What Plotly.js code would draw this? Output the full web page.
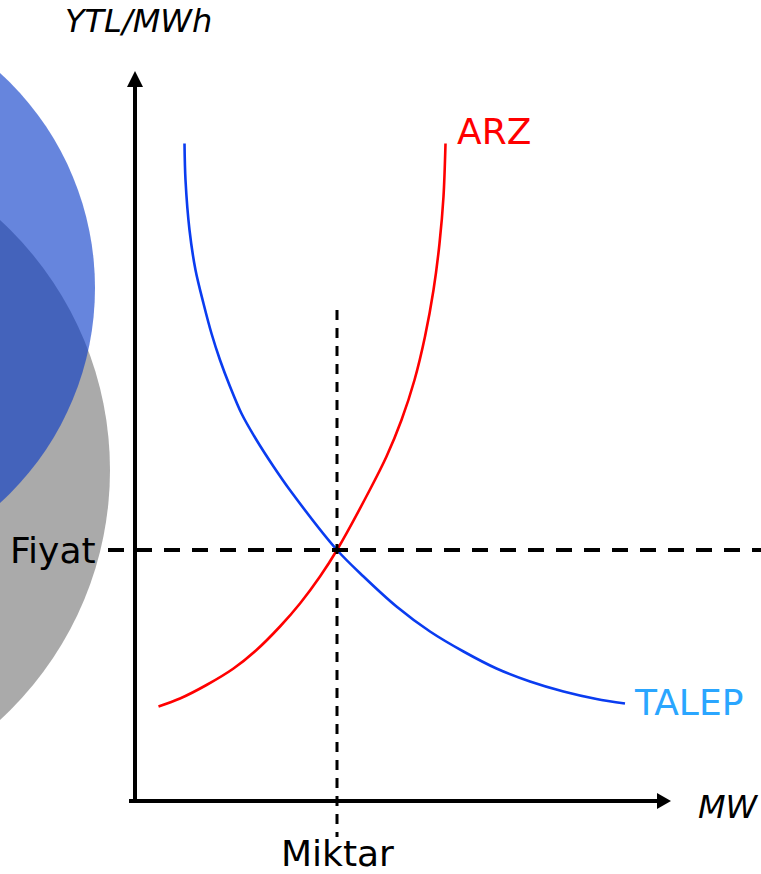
<!DOCTYPE html>
<html>
<head>
<meta charset="utf-8">
<script src="https://cdn.plot.ly/plotly-3.0.1.min.js"></script>
<style>html,body{margin:0;padding:0;background:#fff;}#chart{width:761px;height:874px;}</style>
</head>
<body>
<div id="chart"></div>
<script>
// Supply (ARZ) curve: quantity (MW) vs price (YTL/MWh), arbitrary units
var arzQ = [0.51, 0.94, 1.47, 2.01, 2.47, 2.94, 3.34, 3.74, 4.08, 4.74, 5.07, 5.37, 5.63, 5.84, 6.01, 6.13, 6.21, 6.25];
var arzP = [1.87, 2.03, 2.30, 2.63, 3.00, 3.47, 3.93, 4.47, 5.00, 6.21, 6.87, 7.60, 8.40, 9.27, 10.20, 11.13, 12.07, 13.13];
// Demand (TALEP) curve
var talepQ = [1.03, 1.05, 1.13, 1.25, 1.41, 1.57, 1.74, 1.94, 2.17, 2.47, 2.81, 3.13, 4.08, 4.61, 5.27, 5.94, 6.61, 7.27, 7.94, 8.61, 9.27, 9.84];
var talepP = [13.13, 12.40, 11.40, 10.60, 9.93, 9.33, 8.80, 8.27, 7.73, 7.20, 6.67, 6.21, 5.00, 4.47, 3.87, 3.37, 2.97, 2.63, 2.37, 2.17, 2.02, 1.93];
// Equilibrium
var eqQ = 4.08;
var eqP = 5.00;
// Labels
var labelArz = "ARZ";
var labelTalep = "TALEP";
var labelFiyat = "Fiyat";
var labelMiktar = "Miktar";
var labelY = "YTL/MWh";
var labelX = "MW";

var FONT = "DejaVu Sans, Verdana, sans-serif";

var traces = [
  {x: arzQ, y: arzP, mode: "lines", line: {color: "#ff0000", width: 2.6, shape: "spline", smoothing: 0.9}, hoverinfo: "skip"},
  {x: talepQ, y: talepP, mode: "lines", line: {color: "#0a3cf0", width: 2.6, shape: "spline", smoothing: 0.9}, hoverinfo: "skip"}
];

var shapes = [
  // decorative circles
  {type: "circle", xref: "x", yref: "y", x0: -14.02, x1: -0.46, y0: -0.18, y1: 13.38, fillcolor: "#aaaaaa", line: {width: 0}, layer: "below"},
  {type: "circle", xref: "x", yref: "y", x0: -12.4, x1: -0.76, y0: 4.42, y1: 16.06, fillcolor: "rgb(0,52,198)", opacity: 0.6, line: {width: 0}, layer: "below"},
  // dashed equilibrium lines
  {type: "line", xref: "x", yref: "y", x0: -0.5, x1: 12.6, y0: eqP, y1: eqP, line: {color: "#000", width: 4, dash: "16px,12px"}, layer: "above"},
  {type: "line", xref: "x", yref: "y", x0: eqQ, x1: eqQ, y0: 9.8, y1: -0.74, line: {color: "#000", width: 3, dash: "10px,8px"}, layer: "above"},
  // axes
  {type: "line", xref: "x", yref: "y", x0: 0.04, x1: 0.04, y0: -0.06, y1: 14.3, line: {color: "#000", width: 4}, layer: "above"},
  {type: "path", xref: "x", yref: "y", path: "M -0.12 14.26 L 0.2 14.26 L 0.04 14.58 Z", fillcolor: "#000", line: {width: 0}, layer: "above"},
  {type: "line", xref: "x", yref: "y", x0: -0.08, x1: 10.52, y0: -0.02, y1: -0.02, line: {color: "#000", width: 4}, layer: "above"},
  {type: "path", xref: "x", yref: "y", path: "M 10.48 0.14 L 10.48 -0.18 L 10.76 -0.02 Z", fillcolor: "#000", line: {width: 0}, layer: "above"}
];

function ann(text, x, y, xanchor, size, color, italic) {
  return {text: text, x: x, y: y, xref: "x", yref: "y", xanchor: xanchor, yanchor: "middle", showarrow: false,
          font: {family: FONT, size: size, color: color, style: italic ? "italic" : "normal"}};
}

var annotations = [
  ann(labelY, 0.1, 15.58, "center", 32, "#000", true),
  ann(labelArz, 6.44, 13.37, "left", 36, "#ff0000", false),
  ann(labelTalep, 9.98, 1.96, "left", 36, "#2aa6ff", false),
  ann(labelFiyat, -2.5, 4.99, "left", 36, "#000", false),
  ann(labelMiktar, eqQ, -1.07, "center", 36, "#000", false),
  ann(labelX, 11.26, -0.14, "left", 32, "#000", true)
];

var layout = {
  width: 761, height: 874,
  margin: {l: 0, r: 0, t: 0, b: 0, pad: 0},
  paper_bgcolor: "#fff", plot_bgcolor: "#fff",
  showlegend: false,
  xaxis: {range: [-2.66, 12.56], visible: false, fixedrange: true},
  yaxis: {range: [-1.48, 16], visible: false, fixedrange: true},
  shapes: shapes,
  annotations: annotations
};

Plotly.newPlot("chart", traces, layout, {staticPlot: true, displayModeBar: false});
</script>
</body>
</html>
